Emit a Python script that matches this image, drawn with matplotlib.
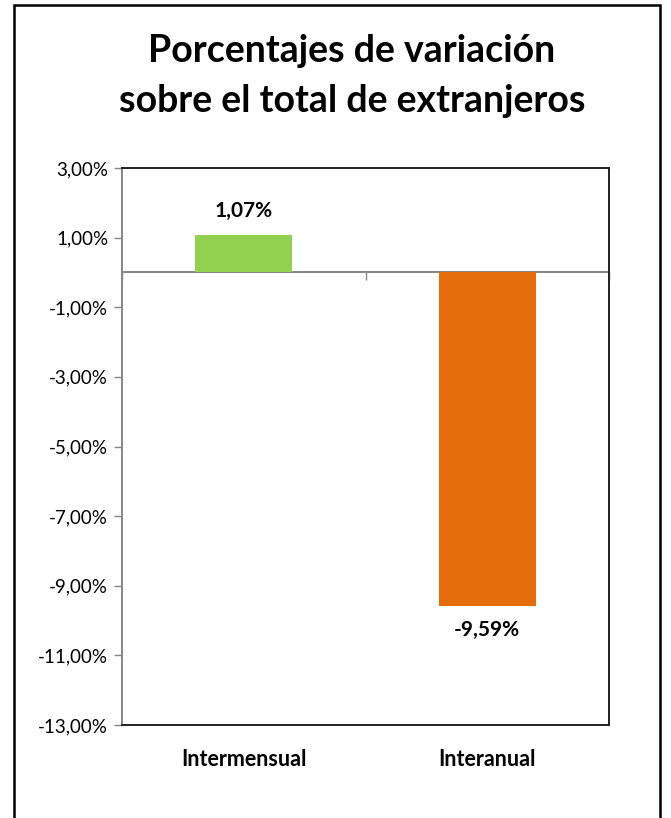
import matplotlib
matplotlib.use("Agg")
import matplotlib.pyplot as plt
from matplotlib.patches import Rectangle
from matplotlib.ticker import FuncFormatter

categories = ["Intermensual", "Interanual"]
values = [1.07, -9.59]
colors = ["#92D050", "#E46C0A"]
yticks = [3, 1, -1, -3, -5, -7, -9, -11, -13]
title = "Porcentajes de variación\nsobre el total de extranjeros"

plt.rcParams['font.family'] = ['Lato', 'DejaVu Sans']

W, H = 671, 818
fig = plt.figure(figsize=(W/100, H/100), dpi=100)
ax = fig.add_axes([122/W, 1-725/H, (609-122)/W, (725-168)/H])

bars = ax.bar(range(len(categories)), values, width=0.4, color=colors, zorder=2)
ax.set_xlim(-0.5, 1.5)
ax.set_ylim(-13, 3)
ax.set_yticks(yticks)
ax.yaxis.set_major_formatter(FuncFormatter(lambda v, p: f"{v:.2f}".replace(".", ",") + "%"))
ax.tick_params(axis='y', length=6, width=1, color='#868686', labelsize=13.5, pad=4, labelcolor='black')

ax.set_xticks(range(len(categories)))
ax.set_xticklabels(categories, fontsize=15.5, fontweight='bold')
ax.tick_params(axis='x', length=0, pad=17)

for s in ['top', 'right', 'bottom']:
    ax.spines[s].set_color('#202020')
    ax.spines[s].set_linewidth(1.4)
ax.spines['left'].set_color('#868686')
ax.spines['left'].set_linewidth(1.4)

# zero category axis
sec = ax.secondary_xaxis(13/16)
sec.set_alignment('bottom')
sec.set_xticks([-0.5, 0.5, 1.5])
sec.set_xticklabels(['', '', ''])
sec.tick_params(length=6, width=1, color='#868686', direction='out')
sec.spines['bottom'].set_color('#868686')
sec.spines['bottom'].set_linewidth(1.4)

for b, v in zip(bars, values):
    lbl = f"{v:.2f}".replace(".", ",") + "%"
    x = b.get_x() + b.get_width()/2
    if v >= 0:
        ax.annotate(lbl, (x, v), xytext=(0, 14), textcoords='offset pixels',
                    ha='center', va='bottom', fontsize=15, fontweight='bold')
    else:
        ax.annotate(lbl, (x, v), xytext=(0, -14), textcoords='offset pixels',
                    ha='center', va='top', fontsize=15, fontweight='bold')

fig.text(352/W, 1-76/H, title, ha='center', va='center', fontsize=27,
         fontweight='bold', linespacing=1.55)

fig.patches.append(Rectangle((14/W, -0.01), (660-14)/W, 1-5/H+0.01,
                             transform=fig.transFigure, fill=False,
                             edgecolor='black', linewidth=1.8))

fig.savefig("out.png", dpi=100)
